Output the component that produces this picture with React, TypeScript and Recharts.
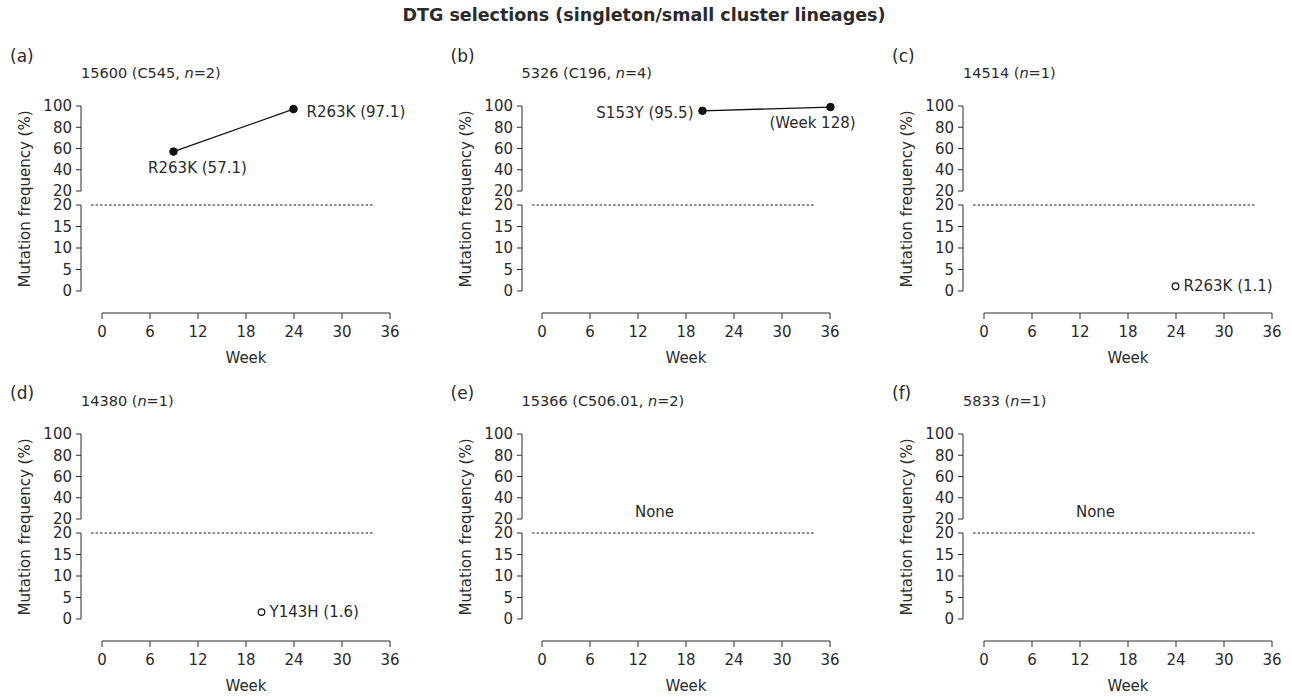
import { LineChart, Line, XAxis, YAxis, ReferenceLine, ReferenceDot, LabelList } from 'recharts';

const INK = '#2a2a2a';
const FONT = '"DejaVu Sans", "Noto Sans", sans-serif';

const weekTicks = [0, 6, 12, 18, 24, 30, 36];
const upperTicks = [20, 40, 60, 80, 100];
const lowerTicks = [0, 5, 10, 15, 20];

// (a) 15600
const weeksA = [9, 24];
const freqA = [57.1, 97.1];
const labelsA = ['R263K (57.1)', 'R263K (97.1)'];
// (b) 5326
const weeksB = [20, 36];
const freqB = [95.5, 99];
const labelsB = ['S153Y (95.5)', '(Week 128)'];
// (c) 14514
const weeksC = [24];
const freqC = [1.1];
const labelsC = ['R263K (1.1)'];
// (d) 14380
const weeksD = [20];
const freqD = [1.6];
const labelsD = ['Y143H (1.6)'];

// layout (px)
const COLS = [81, 521.5, 963];
const ROWS = [106, 434.3];
const LETTER_Y = [57, 394];
const YW = 50;
const PAD = 20.5;
const XW = 288;
const RM = 70;
const TM = 12;
const BM = 12;
const UPPER_H = 85;
const LOWER_TOP = 99;
const LOWER_H = 86;
const XAXIS_Y = 206.7;

type Place = { dx: number; dy: number; anchor: 'start' | 'middle' | 'end' };

const panels = [
  { letter: '(a)', pre: '15600 (C545, ', n: 2, weeks: weeksA, freq: freqA, labels: labelsA, filled: true, col: 0, row: 0,
    place: [{ dx: 24, dy: 16, anchor: 'middle' }, { dx: 13, dy: 3, anchor: 'start' }] as Place[] },
  { letter: '(b)', pre: '5326 (C196, ', n: 4, weeks: weeksB, freq: freqB, labels: labelsB, filled: true, col: 1, row: 0,
    place: [{ dx: -9, dy: 2, anchor: 'end' }, { dx: -18, dy: 16, anchor: 'middle' }] as Place[] },
  { letter: '(c)', pre: '14514 (', n: 1, weeks: weeksC, freq: freqC, labels: labelsC, filled: false, col: 2, row: 0,
    place: [{ dx: 8, dy: 0, anchor: 'start' }] as Place[] },
  { letter: '(d)', pre: '14380 (', n: 1, weeks: weeksD, freq: freqD, labels: labelsD, filled: false, col: 0, row: 1,
    place: [{ dx: 8, dy: 0, anchor: 'start' }] as Place[] },
  { letter: '(e)', pre: '15366 (C506.01, ', n: 2, weeks: [] as number[], freq: [] as number[], labels: [] as string[], filled: false, col: 1, row: 1,
    place: [] as Place[], none: true },
  { letter: '(f)', pre: '5833 (', n: 1, weeks: [] as number[], freq: [] as number[], labels: [] as string[], filled: false, col: 2, row: 1,
    place: [] as Place[], none: true },
];

const tickStyle = { fill: INK, fontSize: 15, fontFamily: FONT };

function makeLabel(data: any[], place: Place[]) {
  return (props: any) => {
    const row = data[props.index];
    if (!row) return null;
    const x = props.viewBox?.x ?? props.x;
    const y = props.viewBox?.y ?? props.y;
    const pl = place[row.i];
    return (
      <text x={x + pl.dx} y={y + pl.dy} textAnchor={pl.anchor} dominantBaseline="central"
        fontSize={15} fontFamily={FONT} fill={INK}>{row.label}</text>
    );
  };
}

function Series({ data, p }: { data: any[]; p: (typeof panels)[number] }) {
  const dot = p.filled
    ? { r: 3.8, fill: '#111', stroke: '#111', strokeWidth: 1, clipDot: false }
    : { r: 3.3, fill: '#fff', stroke: '#111', strokeWidth: 1.2, clipDot: false };
  return (
    <Line dataKey="freq" stroke="#111" strokeWidth={1.3} dot={dot} activeDot={false} isAnimationActive={false}>
      <LabelList dataKey="label" content={makeLabel(data, p.place)} />
    </Line>
  );
}

function Panel({ p }: { p: (typeof panels)[number] }) {
  const ax = COLS[p.col];
  const top = ROWS[p.row];
  const rows = p.weeks.map((w, i) => ({ week: w, freq: p.freq[i], label: p.labels[i], i }));
  const upper = rows.filter((r) => r.freq >= 20);
  const lower = rows.filter((r) => r.freq < 20);
  const w = YW + PAD + XW + RM;

  return (
    <>
      <div style={{ position: 'absolute', left: ax - 71, top: LETTER_Y[p.row] - 11, fontSize: 17, color: INK, fontFamily: FONT }}>
        {p.letter}
      </div>
      <div style={{ position: 'absolute', left: ax, top: top - 41, fontSize: 14.5, color: INK, fontFamily: FONT, whiteSpace: 'nowrap' }}>
        {p.pre}<i>n</i>={p.n})
      </div>
      <div style={{ position: 'absolute', left: ax - 56, top: top + 92.5, transform: 'translate(-50%, -50%) rotate(-90deg)',
        fontSize: 15, color: INK, fontFamily: FONT, whiteSpace: 'nowrap' }}>
        Mutation frequency (%)
      </div>

      {/* upper part 20-100 */}
      <div style={{ position: 'absolute', left: ax - YW, top: top - TM }}>
        <LineChart width={w} height={TM + UPPER_H + BM} margin={{ top: TM, right: RM, bottom: BM, left: 0 }} data={upper}>
          <XAxis hide dataKey="week" type="number" domain={[0, 36]} padding={{ left: PAD, right: 0 }} allowDataOverflow />
          <YAxis width={YW} type="number" domain={[20, 100]} ticks={upperTicks} interval={0} tickSize={5} tickMargin={4}
            stroke={INK} tick={tickStyle} allowDataOverflow />
          {p.none && (
            <ReferenceDot x={14} y={27} r={0} ifOverflow="visible" stroke="none" fill="none"
              label={{ value: 'None', position: 'center', fill: INK, fontSize: 15, fontFamily: FONT }} />
          )}
          {upper.length > 0 && Series({ data: upper, p })}
        </LineChart>
      </div>

      {/* lower part 0-20 */}
      <div style={{ position: 'absolute', left: ax - YW, top: top + LOWER_TOP - TM }}>
        <LineChart width={w} height={TM + LOWER_H + BM} margin={{ top: TM, right: RM, bottom: BM, left: 0 }} data={lower}>
          <XAxis hide dataKey="week" type="number" domain={[0, 36]} padding={{ left: PAD, right: 0 }} allowDataOverflow />
          <YAxis width={YW} type="number" domain={[0, 20]} ticks={lowerTicks} interval={0} tickSize={5} tickMargin={4}
            stroke={INK} tick={tickStyle} allowDataOverflow />
          <ReferenceLine segment={[{ x: -1.3, y: 20 }, { x: 34, y: 20 }]} stroke="#1a1a1a" strokeWidth={1.1}
            strokeDasharray="2.5 2" ifOverflow="visible" />
          {lower.length > 0 && Series({ data: lower, p })}
        </LineChart>
      </div>

      {/* week axis */}
      <div style={{ position: 'absolute', left: ax + PAD - 15, top: top + XAXIS_Y - 1 }}>
        <LineChart width={15 + XW + 20} height={61} margin={{ top: 0, right: 20, bottom: 0, left: 15 }} data={[]}>
          <XAxis dataKey="week" type="number" domain={[0, 36]} ticks={weekTicks} interval={0} height={60}
            tickSize={6} tickMargin={7} stroke={INK} tick={tickStyle} allowDataOverflow
            label={{ value: 'Week', position: 'insideBottom', offset: 10, fill: INK, fontSize: 15, fontFamily: FONT }} />
          <YAxis hide domain={[0, 1]} allowDataOverflow />
        </LineChart>
      </div>
    </>
  );
}

export default function App() {
  return (
    <div style={{ position: 'absolute', left: 0, top: 0, width: 1292, height: 697, background: '#fff', fontFamily: FONT }}>
      <div style={{ position: 'absolute', left: 0, width: 1288, top: 5, textAlign: 'center', fontWeight: 700, fontSize: 17.5,
        color: INK }}>
        DTG selections (singleton/small cluster lineages)
      </div>
      {panels.map((p) => (
        <Panel key={p.letter} p={p} />
      ))}
    </div>
  );
}
